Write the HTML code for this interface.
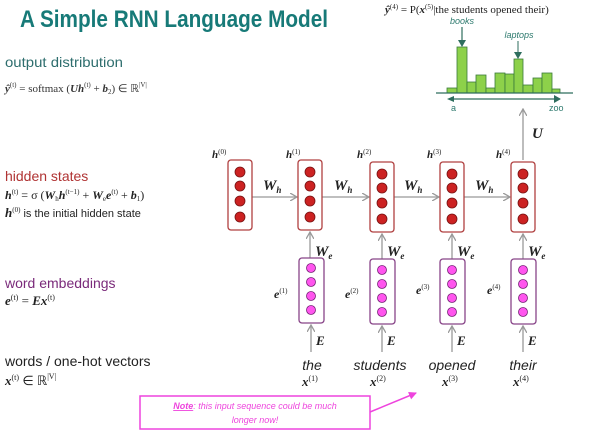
<!DOCTYPE html>
<html><head><meta charset="utf-8"><style>
body{margin:0;background:#fff;}
svg{display:block;font-family:"Liberation Sans",sans-serif;}
.m{font-family:"Liberation Serif",serif;}
.b{font-weight:bold;font-style:italic;font-family:"Liberation Serif",serif;}
</style></head><body>
<svg width="615" height="431" viewBox="0 0 615 431" xmlns="http://www.w3.org/2000/svg">
<defs>
<marker id="ag" markerWidth="8" markerHeight="8" refX="7" refY="4" orient="auto" markerUnits="userSpaceOnUse"><path d="M0,0 L7,4 L0,8" fill="none" stroke="#999" stroke-width="1.3"/></marker>
<marker id="ak" markerWidth="8" markerHeight="8" refX="6" refY="4" orient="auto" markerUnits="userSpaceOnUse"><path d="M0,0 L7,4 L0,8 z" fill="#2e6e5e"/></marker>
<marker id="ap" markerWidth="9" markerHeight="9" refX="7" refY="4" orient="auto" markerUnits="userSpaceOnUse"><path d="M0,0 L8,4 L0,8 z" fill="#ee44dd"/></marker>
</defs>
<text x="20" y="27" font-size="24" font-weight="bold" fill="#177a78" textLength="308" lengthAdjust="spacingAndGlyphs">A Simple RNN Language Model</text>
<text x="5" y="67" font-size="14" fill="#2e6e6e" textLength="118" lengthAdjust="spacingAndGlyphs">output distribution</text>
<text x="5" y="92" font-size="11" class="m" fill="#333"><tspan class="b">ŷ</tspan><tspan font-size="7" dy="-5">(t)</tspan><tspan dy="5"> = softmax (</tspan><tspan class="b">Uh</tspan><tspan font-size="7" dy="-5">(t)</tspan><tspan dy="5"> + </tspan><tspan class="b">b</tspan><tspan font-size="7" dy="2">2</tspan><tspan dy="-2">) ∈ ℝ</tspan><tspan font-size="7" dy="-5">|V|</tspan></text>
<text x="5" y="181" font-size="14" fill="#b03333">hidden states</text>
<text x="5" y="199" font-size="12" class="m" fill="#222"><tspan class="b">h</tspan><tspan font-size="7" dy="-5">(t)</tspan><tspan dy="5"> = σ (</tspan><tspan class="b">W</tspan><tspan font-size="7" dy="2">h</tspan><tspan dy="-2" class="b">h</tspan><tspan font-size="7" dy="-5">(t−1)</tspan><tspan dy="5"> + </tspan><tspan class="b">W</tspan><tspan font-size="7" dy="2">e</tspan><tspan dy="-2" class="b">e</tspan><tspan font-size="7" dy="-5">(t)</tspan><tspan dy="5"> + </tspan><tspan class="b">b</tspan><tspan font-size="7" dy="2">1</tspan><tspan dy="-2">)</tspan></text>
<text x="5" y="217" font-size="11" fill="#222"><tspan class="b" font-size="13">h</tspan><tspan font-size="7" dy="-5" class="m">(0)</tspan><tspan dy="5"> is the initial hidden state</tspan></text>
<text x="5" y="288" font-size="14" fill="#7a2a7a">word embeddings</text>
<text x="5" y="305" font-size="13" class="m" fill="#222"><tspan class="b">e</tspan><tspan font-size="8" dy="-5">(t)</tspan><tspan dy="5"> = </tspan><tspan class="b">Ex</tspan><tspan font-size="8" dy="-5">(t)</tspan></text>
<text x="5" y="366" font-size="14" fill="#222">words / one-hot vectors</text>
<text x="5" y="385" font-size="13" class="m" fill="#222"><tspan class="b">x</tspan><tspan font-size="8" dy="-5">(t)</tspan><tspan dy="5"> ∈ ℝ</tspan><tspan font-size="8" dy="-6">|V|</tspan></text>

<text x="385" y="13" font-size="11" class="m" fill="#222"><tspan class="b">ŷ</tspan><tspan font-size="7" dy="-4">(4)</tspan><tspan dy="4"> = P(</tspan><tspan class="b">x</tspan><tspan font-size="7" dy="-4">(5)</tspan><tspan dy="4">|the students opened their)</tspan></text>
<text x="462" y="24" font-size="9" font-style="italic" fill="#2e7a6e" text-anchor="middle">books</text>
<line x1="462" y1="27" x2="462" y2="46" stroke="#2e6e5e" stroke-width="1.2" marker-end="url(#ak)"/>
<text x="519" y="38" font-size="9" font-style="italic" fill="#2e7a6e" text-anchor="middle">laptops</text>
<line x1="518" y1="41" x2="518" y2="58" stroke="#2e6e5e" stroke-width="1" marker-end="url(#ak)"/>
<g fill="#8dd14a" stroke="#3a7a3a" stroke-width="0.8">
<rect x="447" y="88" width="10" height="5"/><rect x="457" y="47" width="10" height="46"/>
<rect x="467" y="82" width="9" height="11"/><rect x="476" y="75" width="10" height="18"/>
<rect x="486" y="88" width="9" height="5"/><rect x="495" y="73" width="10" height="20"/>
<rect x="505" y="74" width="9" height="19"/><rect x="514" y="59" width="9" height="34"/>
<rect x="523" y="85" width="10" height="8"/><rect x="533" y="78" width="9" height="15"/>
<rect x="542" y="73" width="10" height="20"/><rect x="552" y="89" width="8" height="4"/>
</g>
<line x1="436" y1="93" x2="573" y2="93" stroke="#2e6e5e" stroke-width="1.3"/>
<line x1="450" y1="99" x2="560" y2="99" stroke="#2e6e5e" stroke-width="1.3" marker-end="url(#ak)"/>
<path d="M454,96 L447,99 L454,102z" fill="#2e6e5e"/>
<text x="451" y="111" font-size="9" fill="#2e7a6e">a</text>
<text x="549" y="111" font-size="9" fill="#2e7a6e">zoo</text>
<line x1="523" y1="160" x2="523" y2="109" stroke="#999" stroke-width="1.3" marker-end="url(#ag)"/>
<text x="532" y="138" font-size="15" class="b" fill="#222">U</text>

<g stroke="#999" stroke-width="1.3" fill="none">
<line x1="252" y1="197" x2="297" y2="197" marker-end="url(#ag)"/>
<line x1="322" y1="197" x2="369" y2="197" marker-end="url(#ag)"/>
<line x1="394" y1="197" x2="439" y2="197" marker-end="url(#ag)"/>
<line x1="464" y1="197" x2="510" y2="197" marker-end="url(#ag)"/>
</g>
<g font-size="15" class="b" fill="#222">
<text x="263" y="190">W<tspan font-size="9" dy="3">h</tspan></text>
<text x="334" y="190">W<tspan font-size="9" dy="3">h</tspan></text>
<text x="404" y="190">W<tspan font-size="9" dy="3">h</tspan></text>
<text x="475" y="190">W<tspan font-size="9" dy="3">h</tspan></text>
</g>

<g font-size="11" class="b" fill="#222">
<text x="212" y="158">h<tspan font-size="7" dy="-4" class="m" font-style="normal" font-weight="normal">(0)</tspan></text>
<text x="286" y="158">h<tspan font-size="7" dy="-4" class="m" font-style="normal" font-weight="normal">(1)</tspan></text>
<text x="357" y="158">h<tspan font-size="7" dy="-4" class="m" font-style="normal" font-weight="normal">(2)</tspan></text>
<text x="427" y="158">h<tspan font-size="7" dy="-4" class="m" font-style="normal" font-weight="normal">(3)</tspan></text>
<text x="496" y="158">h<tspan font-size="7" dy="-4" class="m" font-style="normal" font-weight="normal">(4)</tspan></text>
</g>
<g fill="#fff" stroke="#b04040" stroke-width="1.3">
<rect x="228" y="160" width="24" height="70" rx="3"/>
<rect x="298" y="160" width="24" height="70" rx="3"/>
<rect x="370" y="162" width="24" height="70" rx="3"/>
<rect x="440" y="162" width="24" height="70" rx="3"/>
<rect x="511" y="162" width="24" height="70" rx="3"/>
</g>
<g fill="#cc2222" stroke="#771111" stroke-width="0.8">
<circle cx="240" cy="172" r="5"/><circle cx="240" cy="186" r="5"/><circle cx="240" cy="201" r="5"/><circle cx="240" cy="217" r="5"/>
<circle cx="310" cy="172" r="5"/><circle cx="310" cy="186" r="5"/><circle cx="310" cy="201" r="5"/><circle cx="310" cy="217" r="5"/>
<circle cx="382" cy="174" r="5"/><circle cx="382" cy="188" r="5"/><circle cx="382" cy="203" r="5"/><circle cx="382" cy="219" r="5"/>
<circle cx="452" cy="174" r="5"/><circle cx="452" cy="188" r="5"/><circle cx="452" cy="203" r="5"/><circle cx="452" cy="219" r="5"/>
<circle cx="523" cy="174" r="5"/><circle cx="523" cy="188" r="5"/><circle cx="523" cy="203" r="5"/><circle cx="523" cy="219" r="5"/>
</g>
<g stroke="#999" stroke-width="1.3">
<line x1="310" y1="258" x2="310" y2="232" marker-end="url(#ag)"/>
<line x1="382" y1="259" x2="382" y2="234" marker-end="url(#ag)"/>
<line x1="452" y1="259" x2="452" y2="234" marker-end="url(#ag)"/>
<line x1="523" y1="259" x2="523" y2="234" marker-end="url(#ag)"/>
<line x1="311" y1="352" x2="311" y2="325" marker-end="url(#ag)"/>
<line x1="382" y1="352" x2="382" y2="326" marker-end="url(#ag)"/>
<line x1="452" y1="352" x2="452" y2="326" marker-end="url(#ag)"/>
<line x1="523" y1="352" x2="523" y2="326" marker-end="url(#ag)"/>
</g>
<g font-size="15" class="b" fill="#222">
<text x="315" y="256">W<tspan font-size="9" dy="3">e</tspan></text>
<text x="387" y="256">W<tspan font-size="9" dy="3">e</tspan></text>
<text x="457" y="256">W<tspan font-size="9" dy="3">e</tspan></text>
<text x="528" y="256">W<tspan font-size="9" dy="3">e</tspan></text>
<text x="316" y="345" font-size="13">E</text>
<text x="387" y="345" font-size="13">E</text>
<text x="457" y="345" font-size="13">E</text>
<text x="528" y="345" font-size="13">E</text>
</g>
<g fill="#fff" stroke="#884488" stroke-width="1.3">
<rect x="299" y="258" width="25" height="65" rx="3"/>
<rect x="370" y="259" width="25" height="65" rx="3"/>
<rect x="440" y="259" width="25" height="65" rx="3"/>
<rect x="511" y="259" width="25" height="65" rx="3"/>
</g>
<g fill="#ff55ee" stroke="#772277" stroke-width="0.8">
<circle cx="311" cy="268" r="4.5"/><circle cx="311" cy="282" r="4.5"/><circle cx="311" cy="296" r="4.5"/><circle cx="311" cy="310" r="4.5"/>
<circle cx="382" cy="270" r="4.5"/><circle cx="382" cy="284" r="4.5"/><circle cx="382" cy="298" r="4.5"/><circle cx="382" cy="312" r="4.5"/>
<circle cx="452" cy="270" r="4.5"/><circle cx="452" cy="284" r="4.5"/><circle cx="452" cy="298" r="4.5"/><circle cx="452" cy="312" r="4.5"/>
<circle cx="523" cy="270" r="4.5"/><circle cx="523" cy="284" r="4.5"/><circle cx="523" cy="298" r="4.5"/><circle cx="523" cy="312" r="4.5"/>
</g>
<g font-size="12" class="b" fill="#222">
<text x="274" y="298">e<tspan font-size="7" dy="-5" class="m" font-style="normal" font-weight="normal">(1)</tspan></text>
<text x="345" y="298">e<tspan font-size="7" dy="-5" class="m" font-style="normal" font-weight="normal">(2)</tspan></text>
<text x="416" y="294">e<tspan font-size="7" dy="-5" class="m" font-style="normal" font-weight="normal">(3)</tspan></text>
<text x="487" y="294">e<tspan font-size="7" dy="-5" class="m" font-style="normal" font-weight="normal">(4)</tspan></text>
</g>

<g font-size="14" font-style="italic" fill="#222" text-anchor="middle">
<text x="312" y="370">the</text><text x="380" y="370">students</text>
<text x="452" y="370">opened</text><text x="523" y="370">their</text>
</g>
<g font-size="13" class="b" fill="#222">
<text x="302" y="386">x<tspan font-size="8" dy="-5" class="m" font-style="normal" font-weight="normal">(1)</tspan></text>
<text x="370" y="386">x<tspan font-size="8" dy="-5" class="m" font-style="normal" font-weight="normal">(2)</tspan></text>
<text x="442" y="386">x<tspan font-size="8" dy="-5" class="m" font-style="normal" font-weight="normal">(3)</tspan></text>
<text x="513" y="386">x<tspan font-size="8" dy="-5" class="m" font-style="normal" font-weight="normal">(4)</tspan></text>
</g>
<rect x="140" y="396" width="230" height="33" fill="#fff" stroke="#ee44dd" stroke-width="1.5"/>
<line x1="370" y1="412" x2="416" y2="393" stroke="#ee44dd" stroke-width="1.5" marker-end="url(#ap)"/>
<text x="255" y="409" font-size="9" font-style="italic" fill="#ee44dd" text-anchor="middle"><tspan font-weight="bold" text-decoration="underline">Note</tspan>: this input sequence could be much</text>
<text x="255" y="423" font-size="9" font-style="italic" fill="#ee44dd" text-anchor="middle">longer now!</text>
</svg>
</body></html>
